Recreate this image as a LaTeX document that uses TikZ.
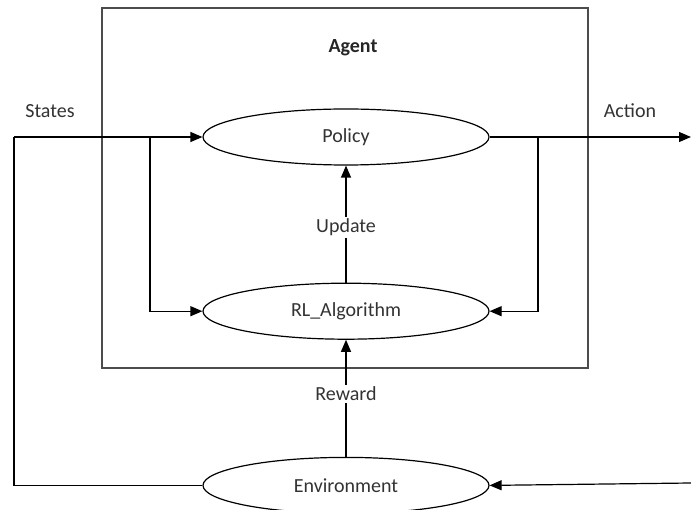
\documentclass[tikz,border=0pt]{standalone}
\usepackage{fontspec}
\setmainfont{Carlito}
\usepackage{tikz}
\usetikzlibrary{positioning}
\usetikzlibrary{arrows.meta}
\usetikzlibrary{shapes.geometric}

\begin{document}
\begin{tikzpicture}[x=1pt, y=-1pt,
                line width=1.2pt,
                font=\fontsize{20}{24}\selectfont,
                ovalnode/.style={ellipse, draw, fill=white, minimum width=286pt, minimum height=56pt, inner sep=0pt, text=black!80},
                boxnode/.style={rectangle, draw=black!70, minimum width=486pt, minimum height=360pt},
                labelnode/.style={fill=white, inner sep=2pt, text=black!80},
                flow/.style={-{Triangle[length=12pt, width=10pt]}},
            ]
            \useasboundingbox (0,0) rectangle (691,510);

            % Nodes
            \node[boxnode]          (agent)     at (345,188)                {};
            \node[text=black!85]    (agent_lbl) at (353,48)                 {\bfseries Agent};

            \node[ovalnode]         (policy)    at (346,137)                {Policy};
            \node[ovalnode]         (rl_alg)    [below=117pt of policy]     {RL\_Algorithm};
            \node[ovalnode]         (env)       [below=117pt of rl_alg]     {Environment};

            \node[labelnode]        (states)    at (50,111)                 {States};
            \node[labelnode]        (action)    at (630,111)                {Action};

            % Points on the lines
            \coordinate (state_in)   at (14,137);
            \coordinate (state_tap)  at (150,137);
            \coordinate (action_tap) at (538,137);
            \coordinate (action_out) at (691,137);
            \coordinate (env_in)     at (691,483);

            %Lines
            \draw[flow] (state_in) -- (policy.west);
            \draw (state_in) |- (env.west);
            \draw[flow] (state_tap) |- (rl_alg.west);

            \draw[flow] (policy.east) -- (action_out);
            \draw[flow] (action_tap) |- (rl_alg.east);

            \draw[flow] (rl_alg.north) -- node[labelnode, pos=0.47] {Update} (policy.south);
            \draw[flow] (env.north) -- node[labelnode, pos=0.54] {Reward} (rl_alg.south);
            \draw[flow] (env_in) -- (env.east);
        \end{tikzpicture}
\end{document}
